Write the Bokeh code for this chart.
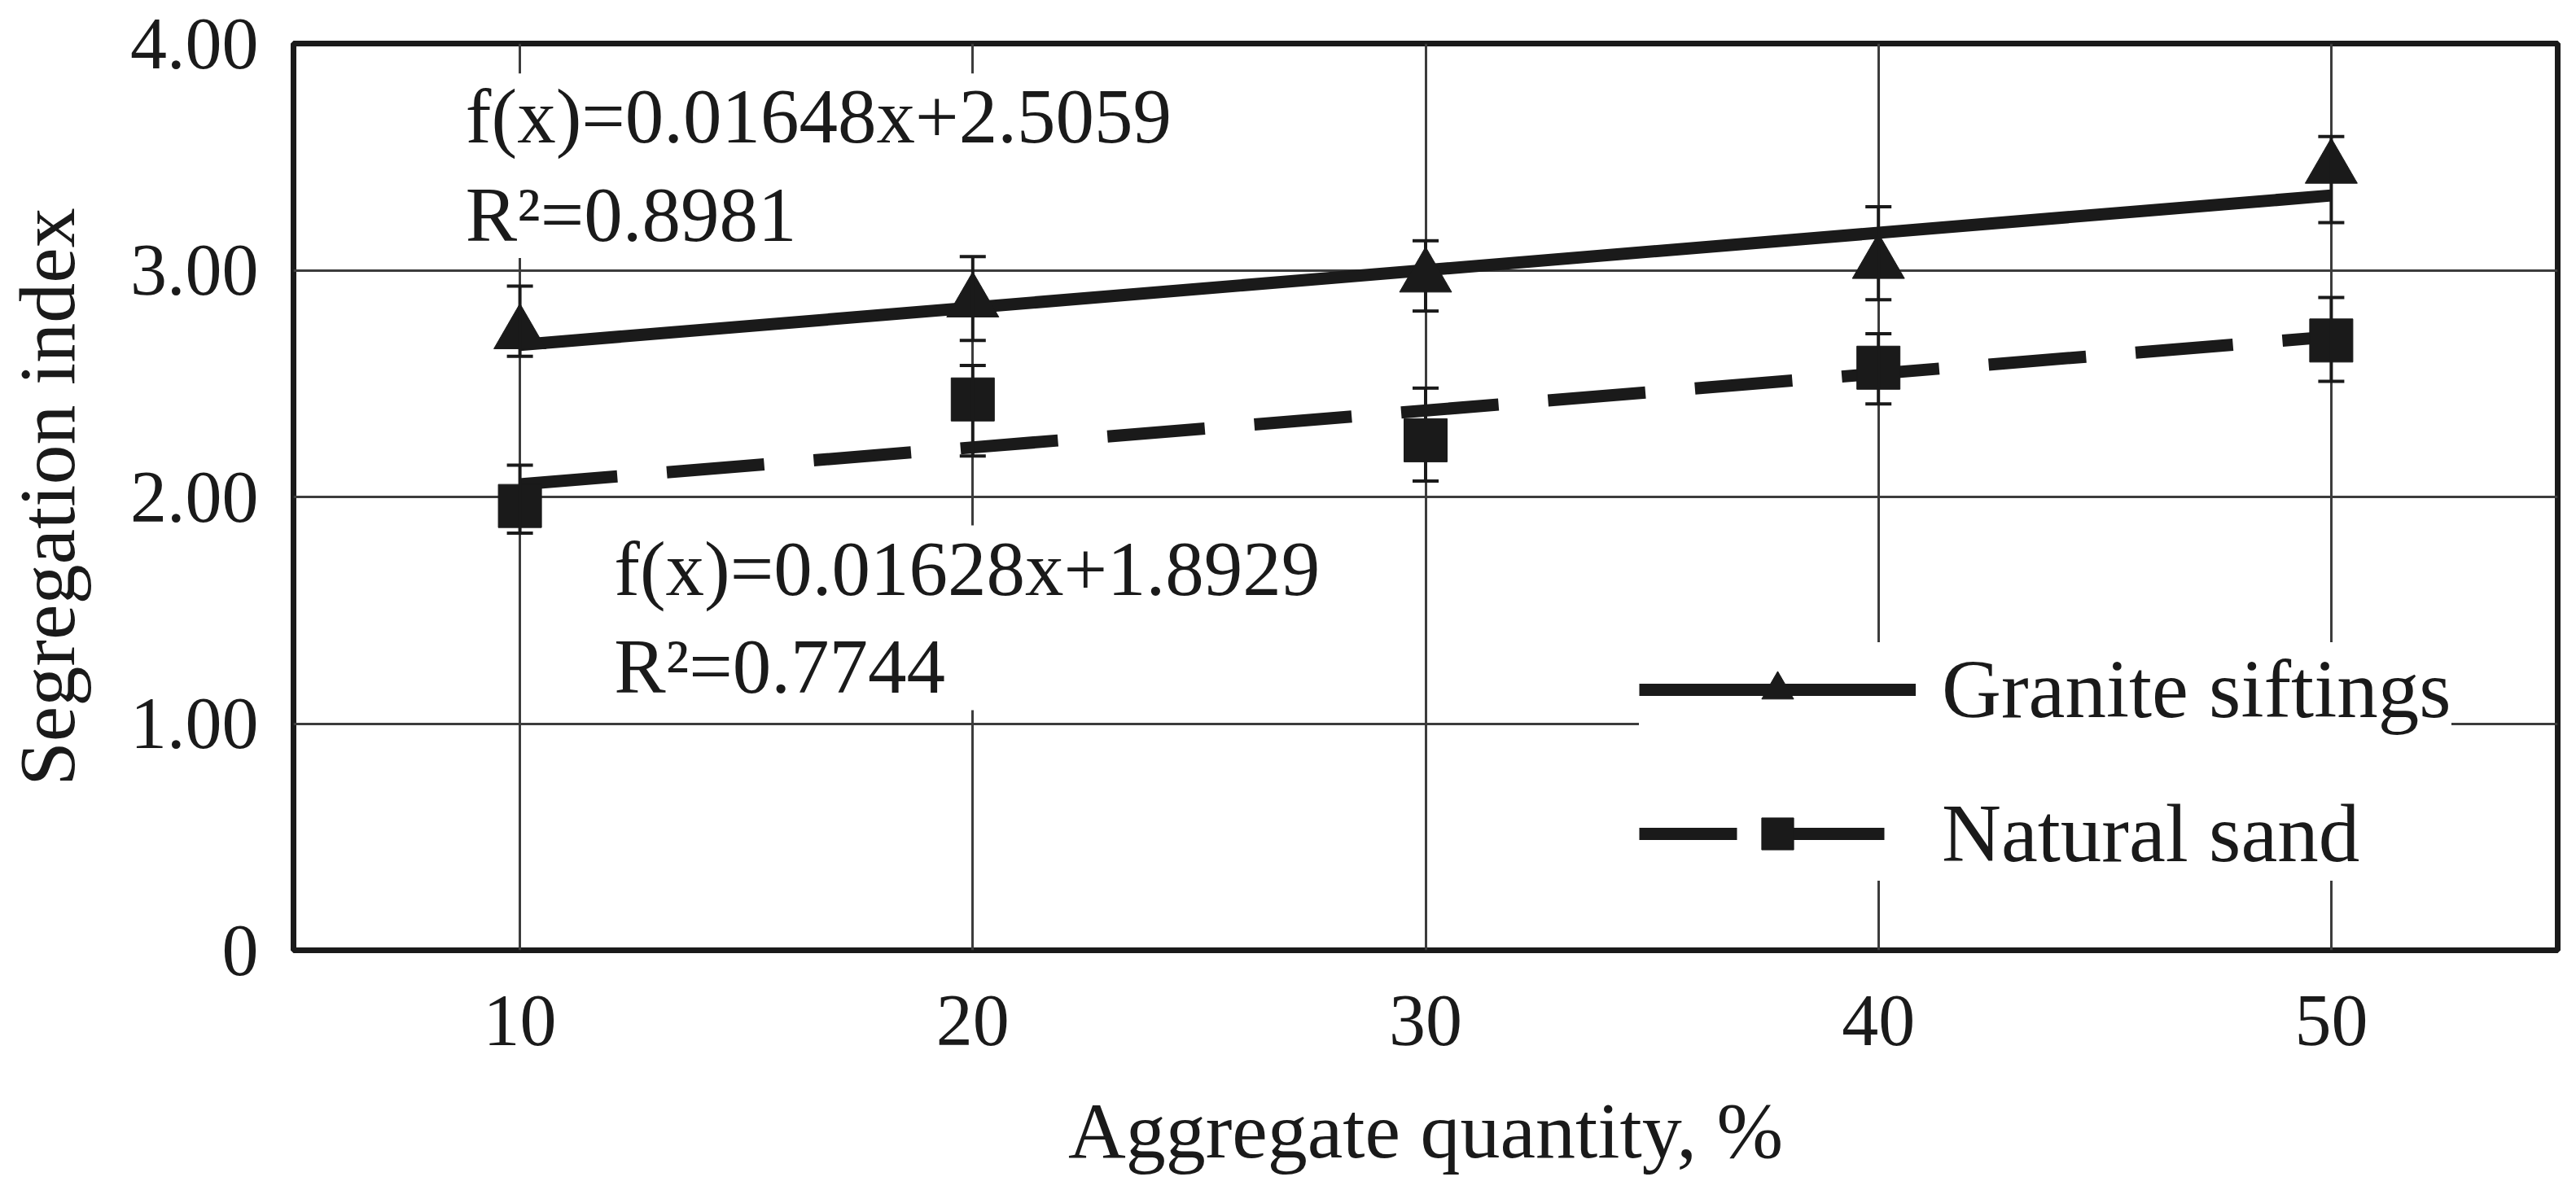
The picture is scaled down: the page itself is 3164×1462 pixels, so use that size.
from bokeh.plotting import figure
from bokeh.models import (Range1d, FixedTicker, ColumnDataSource, Whisker, TeeHead,
                          Label, Legend, LegendItem)
from bokeh.embed import file_html
from bokeh.resources import INLINE

# ---- data ----
x_values = [10, 20, 30, 40, 50]
granite = [2.72, 2.86, 2.97, 3.03, 3.45]
granite_upper = [2.93, 3.06, 3.13, 3.28, 3.59]
granite_lower = [2.62, 2.69, 2.82, 2.87, 3.21]
sand = [1.96, 2.43, 2.25, 2.57, 2.69]
sand_upper = [2.14, 2.58, 2.48, 2.72, 2.88]
sand_lower = [1.84, 2.18, 2.07, 2.41, 2.51]

granite_slope, granite_intercept, granite_r2 = 0.01648, 2.5059, "0.8981"
sand_slope, sand_intercept, sand_r2 = 0.01628, 1.8929, "0.7744"
fit_x = [10, 50]

x_ticks = [10, 20, 30, 40, 50]
y_ticks = [0, 1, 2, 3, 4]
y_tick_labels = ["0", "1.00", "2.00", "3.00", "4.00"]

series_names = ["Granite siftings", "Natural sand"]
x_title = "Aggregate quantity, %"
y_title = "Segregation index"

# ---- styling ----
INK = "#1a1a1a"
FONT = "Liberation Serif"

p = figure(frame_width=2781, frame_height=1114, output_backend="svg", toolbar_location=None,
           x_range=Range1d(5, 55), y_range=Range1d(0, 4),
           min_border_left=359, min_border_right=20, min_border_top=53, min_border_bottom=295)
p.background_fill_color = "white"
p.border_fill_color = "white"
p.outline_line_color = INK
p.outline_line_width = 7

p.xaxis.ticker = FixedTicker(ticks=x_ticks)
p.yaxis.ticker = FixedTicker(ticks=y_ticks)
p.yaxis.major_label_overrides = {t: l for t, l in zip(y_ticks, y_tick_labels)}
p.xgrid.ticker = FixedTicker(ticks=x_ticks)
p.ygrid.ticker = FixedTicker(ticks=y_ticks[1:-1])
for g in (p.xgrid, p.ygrid):
    g.grid_line_color = "#3c3c3c"
    g.grid_line_width = 3

for ax in (p.xaxis, p.yaxis):
    ax.axis_line_color = None
    ax.major_tick_line_color = None
    ax.minor_tick_line_color = None
    ax.major_tick_out = 0
    ax.major_tick_in = 0
    ax.minor_tick_out = 0
    ax.major_label_text_font = FONT
    ax.major_label_text_font_size = "90px"
    ax.major_label_text_color = INK
    ax.axis_label_text_font = FONT
    ax.axis_label_text_font_size = "98px"
    ax.axis_label_text_font_style = "normal"
    ax.axis_label_text_color = INK
p.xaxis.major_label_standoff = 56
p.yaxis.major_label_standoff = 43
p.xaxis.axis_label = x_title
p.yaxis.axis_label = y_title
p.xaxis.axis_label_standoff = 48
p.yaxis.axis_label_standoff = 45

# ---- trend lines ----
g_line = p.line(fit_x, [granite_slope * x + granite_intercept for x in fit_x],
                line_color=INK, line_width=15)
s_line = p.line(fit_x, [sand_slope * x + sand_intercept for x in fit_x],
                line_color=INK, line_width=15, line_dash="120 61")

# ---- markers ----
g_src = ColumnDataSource(dict(x=x_values, y=granite, upper=granite_upper, lower=granite_lower))
s_src = ColumnDataSource(dict(x=x_values, y=sand, upper=sand_upper, lower=sand_lower))
g_pts = p.scatter("x", "y", source=g_src, marker="triangle", size=64,
                  fill_color=INK, line_color=INK)
s_pts = p.scatter("x", "y", source=s_src, marker="square", size=53,
                  fill_color=INK, line_color=INK)

# ---- equation labels (white boxes hide the grid) ----
lab_g = Label(x=8.8, y=3.868, text=f"f(x)={granite_slope}x+{granite_intercept}\nR\u00b2={granite_r2}",
              text_font=FONT, text_font_size="95px", text_color=INK,
              text_align="left", text_baseline="top", text_line_height=1.14,
              background_fill_color="white", background_fill_alpha=1.0)
lab_s = Label(x=12.08, y=1.874, text=f"f(x)={sand_slope}x+{sand_intercept}\nR\u00b2={sand_r2}",
              text_font=FONT, text_font_size="95px", text_color=INK,
              text_align="left", text_baseline="top", text_line_height=1.14,
              background_fill_color="white", background_fill_alpha=1.0)
p.add_layout(lab_g)
p.add_layout(lab_s)

# ---- error bars ----
for src in (g_src, s_src):
    w = Whisker(base="x", upper="upper", lower="lower", source=src,
                line_color=INK, line_width=4, level="overlay",
                upper_head=TeeHead(size=32, line_width=4, line_color=INK),
                lower_head=TeeHead(size=32, line_width=4, line_color=INK))
    p.add_layout(w)

# ---- legend ----
legend = Legend(items=[LegendItem(label=series_names[0], renderers=[g_line, g_pts]),
                       LegendItem(label=series_names[1], renderers=[s_line, s_pts])],
                location=(1653, 85), orientation="vertical",
                background_fill_color="white", background_fill_alpha=1.0,
                border_line_color=None, padding=34, margin=0,
                glyph_width=340, glyph_height=98, label_height=98,
                label_standoff=32, spacing=61,
                label_text_font=FONT, label_text_font_size="101px", label_text_color=INK)
p.add_layout(legend)

open("out.html", "w").write(file_html(p, INLINE))
